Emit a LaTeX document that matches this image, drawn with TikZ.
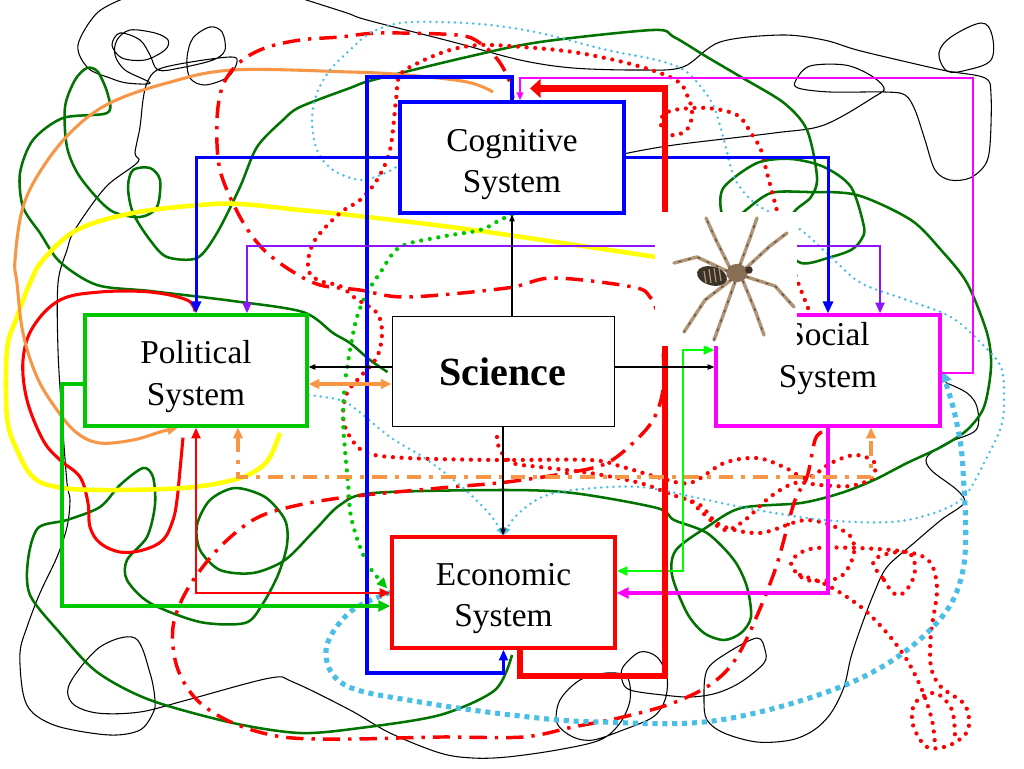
\documentclass[tikz,border=0pt]{standalone}
\usepackage{fontspec}
\setmainfont{Liberation Serif}
\usetikzlibrary{arrows.meta,calc}
\pgfdeclarelayer{bg}\pgfdeclarelayer{front}
\pgfsetlayers{bg,main,front}
\definecolor{cblue}{RGB}{0,0,255}
\definecolor{cpurple}{RGB}{140,20,255}
\definecolor{cmag}{RGB}{255,0,255}
\definecolor{cgreen}{RGB}{0,200,0}
\definecolor{clime}{RGB}{0,255,0}
\definecolor{cdkgreen}{RGB}{0,115,0}
\definecolor{cred}{RGB}{255,0,0}
\definecolor{corange}{RGB}{247,150,70}
\definecolor{cyel}{RGB}{255,255,0}
\definecolor{ccyan}{RGB}{75,190,230}
\definecolor{cleg}{RGB}{175,150,120}
\definecolor{clegd}{RGB}{95,75,55}
\definecolor{cabd}{RGB}{60,50,40}
\definecolor{cceph}{RGB}{135,110,85}
\begin{document}
\begin{tikzpicture}[x=0.75pt,y=-0.75pt,
  box/.style={draw,fill=white,line width=2.4pt,inner sep=0pt},
  txt/.style={align=center,inner sep=0pt,font=\fontsize{25}{31}\selectfont},
  blk/.style={draw=black,line width=0.8pt,-{Triangle[length=5pt,width=4pt]}},
  blarr/.style={draw=cblue,line width=2.25pt,-{Triangle[length=9pt,width=7.5pt]}},
  blline/.style={draw=cblue,line width=2.4pt,-{Triangle[length=8pt,width=6.5pt]}},
  purarr/.style={draw=cpurple,line width=2.2pt,{Triangle[length=8pt,width=6.5pt]}-{Triangle[length=8pt,width=6.5pt]}},
  mgthin/.style={draw=cmag,line width=1.1pt,-{Triangle[length=6pt,width=5pt]}},
  mgarr/.style={draw=cmag,line width=2.4pt,-{Triangle[length=9pt,width=8pt]}},
  grarr/.style={draw=cgreen,line width=2.4pt,-{Triangle[length=9pt,width=8pt]}},
  limearr/.style={draw=clime,line width=2.2pt,{Triangle[length=8pt,width=6.5pt]}-{Triangle[length=8pt,width=6.5pt]}},
  redarr/.style={draw=cred,line width=2.2pt,{Triangle[length=8pt,width=6.5pt]}-{Triangle[length=8pt,width=6.5pt]}},
  redthick/.style={draw=cred,line width=5pt,line join=miter,-{Triangle[length=8pt,width=14pt]}},
  oradd/.style={draw=corange,line width=2.4pt,dash pattern=on 11pt off 6pt on 3pt off 6pt,{Triangle[length=8pt,width=7pt]}-{Triangle[length=8pt,width=7pt]}},
  orar/.style={draw=corange,line width=2.4pt,{Triangle[length=8pt,width=7pt]}-{Triangle[length=8pt,width=7pt]}},
  cythick/.style={draw=ccyan,line width=3.8pt,dash pattern=on 3.8pt off 3.6pt,-{Triangle[length=9pt,width=9pt]}},
  cythin/.style={draw=ccyan,line width=2.1pt,line cap=round,dash pattern=on 0pt off 4.6pt,-{Triangle[length=6pt,width=5pt]}},
  grdot/.style={draw=cgreen,line width=3.2pt,line cap=round,dash pattern=on 0pt off 6.5pt,-{Triangle[length=8pt,width=7pt]}},
  orsolid/.style={draw=corange,line width=2.3pt,-{Triangle[length=8pt,width=7pt]}},
  blackscr/.style={draw=black,line width=0.8pt},
  dgscr/.style={draw=cdkgreen,line width=1.9pt},
  redloop/.style={draw=cred,line width=2.3pt},
  yel/.style={draw=cyel,line width=3.4pt},
  reddot/.style={draw=cred,line width=3.2pt,line cap=round,dash pattern=on 0pt off 6.5pt},
  reddd/.style={draw=cred,line width=2.6pt,dash pattern=on 13pt off 6pt on 2.5pt off 6pt},
  leg/.style={draw=cleg,line width=2.6pt,line cap=round,line join=round},
  legband/.style={draw=clegd,line width=0.9pt,line cap=round,dash pattern=on 1.5pt off 6pt}
]
\useasboundingbox (0,0) rectangle (1024,768);
\begin{pgfonlayer}{bg}
\fill[white] (0,0) rectangle (1024,768);
\end{pgfonlayer}

% ---------------- nodes ----------------
\node[box,draw=cblue,minimum width=168pt,minimum height=83.25pt] (cog) at (512,157.5) {};
\node[box,draw=black,line width=0.75pt,minimum width=166.5pt,minimum height=82.5pt] (sci) at (503,371) {};
\node[box,draw=cgreen,minimum width=166.5pt,minimum height=83.25pt] (pol) at (196,370.5) {};
\node[box,draw=cmag,minimum width=168pt,minimum height=83.25pt] (soc) at (828,370.5) {};
\node[box,draw=cred,minimum width=167.25pt,minimum height=83.25pt] (eco) at (503.5,592.5) {};
\node[txt] (cogt) at ($(cog.center)+(0,7)$) {Cognitive\\System};
\node[txt,font=\fontsize{30}{36}\selectfont\bfseries] (scit) at ($(sci.center)+(0,1)$) {Science};
\node[txt] (polt) at ($(pol.center)+(0,6)$) {Political\\System};
\node[txt] (soct) at ($(soc.center)+(0,-12)$) {Social\\System};
\node[txt] (ecot) at ($(eco.center)+(0,6)$) {Economic\\System};

\coordinate (c1s) at ($(cog.west)+(-3,10)$);
\coordinate (c2s) at ($(pol.east)+(0,24.5)$);
\coordinate (gds) at ($(eco.west)+(-3,-4)$);
\coordinate (ors) at (493,92);
\coordinate (ore) at ($(pol.south)+(-18,0)$);
\coordinate (dgs) at ($(sci.west)+(-4,1)$);
\coordinate (bks) at ($(soc.east)+(4,12)$);
\coordinate (bkt) at ($(cog.east)+(0,-4)$);
\coordinate (rls) at ($(pol.north)+(-1,-2)$);
\coordinate (rle) at ($(pol.south)+(-13,10)$);
\coordinate (ddend) at ($(cog.north)+(1,-2)$);

\begin{pgfonlayer}{bg}
% ---------------- freehand black ----------------
\draw[blackscr] plot[smooth,tension=0.55] coordinates {(bks) (967,393) (977,407) (976,430) (947,443) (927,457) (931,470) (957,490) (964,503) (941,520) (914,543) (887,567) (874,593) (861,627) (851,657) (844,687) (831,713) (814,730) (791,740) (757,742) (724,733) (707,720) (704,700) (707,670) (727,653) (757,638) (765,650) (764,663) (741,682) (717,693) (691,697) (663,695) (630,690) (622,680) (623,667) (640,652) (657,657) (667,677) (665,700) (653,717) (623,730) (593,740) (573,737) (557,723) (560,700) (580,680) (607,673) (627,677) (630,700) (620,723) (600,740) (557,750) (507,757) (473,758) (440,753) (390,733) (350,710) (293,682) (270,678) (187,700) (140,712) (97,713) (72,703) (70,683) (100,647) (135,638) (150,673) (155,700) (153,713) (140,730) (110,735) (60,727) (33,713) (23,693) (20,653) (27,627) (40,593) (57,557) (67,527) (70,500) (67,483) (62,417) (58,350) (58,283) (67,250) (73,233) (93,203) (110,183) (138,162) (135,153) (140,127) (143,100) (147,83) (157,70) (185,63) (230,57) (237,62) (228,77) (205,85) (190,78) (187,58) (193,38) (210,27) (222,32) (225,50) (213,60) (180,68) (158,70) (150,55) (140,40) (120,33) (112,45) (122,58) (145,60) (165,50) (168,40) (155,33) (130,30) (117,40) (115,55) (125,70) (150,83) (127,83) (110,78) (88,68) (78,45) (97,13) (125,-2)};
\draw[blackscr] plot[smooth,tension=0.55] coordinates {(300,-2) (347,13) (367,20) (453,42) (520,60) (573,68) (640,70) (683,67) (720,42) (781,35) (824,40) (857,50) (907,62) (947,71) (985,78) (991,95) (990,145) (985,165) (970,178) (950,180) (935,170) (925,140) (915,110) (905,95) (885,92) (830,92) (798,88) (796,80) (810,66) (845,65) (870,75) (884,88) (874,97) (824,125) (774,133) (674,145) (bkt)};
\draw[blackscr] plot[smooth cycle,tension=0.6] coordinates {(947,71) (939,53) (951,37) (981,23) (992,35) (991,60) (967,70)};

% ---------------- dark green scribble ----------------
\draw[dgscr] plot[smooth,tension=0.5] coordinates {(dgs) (370,360) (350,343) (333,333) (303,312) (233,301) (150,291) (97,285) (60,262) (40,233) (23,207) (20,173) (33,140) (63,118) (107,113) (108,95) (98,72) (87,68) (75,80) (65,107) (67,147) (80,177) (110,210) (140,217) (157,207) (160,180) (150,168) (133,170) (128,187) (133,213) (150,240) (167,257) (197,258) (217,233) (240,187) (257,147) (283,120) (300,107) (350,88) (373,80) (467,57) (540,42) (653,30) (674,37) (707,57) (741,77) (784,103) (807,130) (817,177) (811,197) (794,212) (780,240) (801,263) (831,257) (851,250) (861,240) (864,227) (851,187) (824,167) (791,159) (757,163) (724,187) (721,210) (730,225) (746,210) (771,193) (807,192) (857,195) (911,220) (941,250) (967,283) (987,333) (991,367) (984,407) (967,430) (941,447) (907,463) (874,480) (841,493) (801,503) (741,508) (707,527) (676,550) (672,575) (687,613) (704,633) (724,640) (741,633) (751,617) (747,587) (734,560) (707,533) (674,520) (657,508) (573,493) (503,490) (373,493) (340,505) (315,530) (285,560) (253,573) (220,570) (200,550) (197,525) (210,500) (235,488) (265,497) (285,520) (287,545) (278,575) (262,605) (245,623) (200,622) (150,603) (127,580) (127,560) (147,537) (155,505) (153,477) (143,468) (120,485) (100,507) (67,520) (38,528) (28,560) (30,595) (60,633) (97,672) (150,700) (233,723) (300,733) (360,728) (440,715) (495,690) (512,655)};

% ---------------- red solid loop ----------------
\draw[redloop] plot[smooth,tension=0.6] coordinates {(rls) (187,300) (150,292) (100,292) (60,300) (33,327) (23,360) (27,400) (43,440) (60,460) (80,477) (88,503) (90,527) (100,543) (120,552) (143,550) (163,540) (173,520) (177,500) (180,470) (rle)};

% ---------------- yellow ----------------
\draw[yel] plot[smooth,tension=0.6] coordinates {(656,257) (473,230) (350,215) (300,210) (240,204) (200,205) (133,213) (77,230) (43,260) (30,283) (17,317) (7,350) (7,417) (17,450) (33,477) (57,487) (100,490) (183,488) (233,480) (257,470) (270,457) (280,433)};

% ---------------- orange solid ----------------
\draw[orsolid] plot[smooth,tension=0.6] coordinates {(ors) (467,82) (407,75) (350,72) (233,70) (167,83) (110,103) (73,130) (43,167) (23,207) (15,260) (17,283) (23,333) (37,377) (57,410) (77,433) (100,443) (133,440) (160,432) (ore)};

% ---------------- red dotted ----------------
\draw[reddot] plot[smooth,tension=0.55] coordinates {(808,308) (790,260) (776,207) (767,173) (761,150) (751,133) (737,115) (707,108) (674,110) (662,117) (663,132) (677,135) (689,127) (692,110) (687,95) (680,83) (660,73) (623,62) (573,52) (523,47) (480,45) (450,50) (420,62) (400,75) (396,100) (390,150) (377,180) (360,200) (340,213) (317,237) (309,255) (309,272) (320,281) (340,286) (355,298) (377,313) (382,333) (377,357) (360,377) (347,393) (343,417) (350,437) (367,453) (407,458) (497,460) (590,460) (623,467) (657,477) (690,483) (724,463) (757,458) (784,467) (807,478) (831,463) (855,455) (874,462) (872,478) (850,486) (820,485) (795,483) (770,497) (745,520) (725,530) (705,515) (690,500)};
\draw[reddot] plot[smooth,tension=0.55] coordinates {(497,437) (500,450) (513,463) (540,467) (590,473) (640,483) (673,495) (700,505) (720,525) (760,533) (807,520) (847,533) (854,553) (840,577) (807,580) (791,563) (810,549) (857,548) (907,552) (930,562) (937,590) (931,633) (931,667) (941,687) (965,705) (968,730) (950,745) (927,747) (913,725) (915,703) (935,693) (952,710) (955,740)};
\draw[reddot] plot[smooth,tension=0.55] coordinates {(800,575) (827,585) (861,607) (887,633) (907,660) (922,690) (932,720) (935,745)};
\draw[reddot] plot[smooth cycle,tension=0.7] coordinates {(874,560) (884,580) (897,595) (910,585) (915,565) (905,552)};

% ---------------- red dash-dot ----------------
\draw[reddd] plot[smooth,tension=0.55] coordinates {(822,432) (815,440) (807,477) (794,503) (774,573) (741,650) (714,682) (673,703) (623,717) (573,727) (523,737) (440,737) (350,739) (283,737) (233,723) (197,700) (177,667) (173,627) (187,590) (217,550) (253,520) (290,507) (347,497) (440,488) (507,482) (573,472) (607,463) (633,443) (653,420) (663,390) (663,350) (657,313) (650,297) (633,287) (553,278) (507,288) (407,297) (360,290) (320,285) (290,270) (262,248) (240,217) (220,170) (217,120) (223,85) (240,62) (265,48) (300,40) (340,37) (380,33) (457,35) (480,43) (498,60) (509,80) (ddend)};

% ---------------- cyan thin dotted ----------------
\draw[cythin] plot[smooth,tension=0.55] coordinates {(c1s) (383,174) (360,180) (333,170) (317,150) (312,120) (317,93) (330,70) (350,50) (370,33) (400,23) (440,22) (490,25) (540,33) (607,50) (657,60) (684,70) (701,87) (714,107) (724,140) (734,177) (751,200) (771,213) (801,230) (831,257) (861,283) (907,300) (951,317) (981,343) (1001,367) (1004,400) (1001,427) (984,463) (964,497) (934,513) (891,522) (824,520) (757,510) (707,500) (640,487) (573,490) (540,498) (515,517) (eco.north)};
\draw[cythin] plot[smooth,tension=0.55] coordinates {(c2s) (340,400) (357,410) (390,437) (423,457) (450,477) (473,497) (492,517) (eco.north)};

% ---------------- green dotted ----------------
\draw[grdot] plot[smooth,tension=0.55] coordinates {(cog.south) (500,220) (480,230) (440,237) (400,247) (380,273) (367,293) (357,317) (350,350) (345,383) (343,417) (345,450) (348,483) (350,510) (353,525) (360,547) (370,568) (gds)};

% ---------------- cyan thick dotted ----------------
\draw[cythick] plot[smooth,tension=0.6] coordinates {(eco.west) (350,612) (326,650) (345,685) (420,702) (520,716) (600,722) (720,720) (850,683) (930,630) (963,570) (963,470) (955,415) (soc.east)};

% ---------------- orthogonal connectors ----------------
\draw[blarr] (cog.west) -| (pol.north);
\draw[blarr] (cog.east) -| (soc.north);
\draw[blline] (cog.north) -- (512,77) -- (367,77) -- (367,673) -| (eco.south);
\draw[purarr] ($(pol.north)+(51,0)$) |- (560,246) -| ($(soc.north)+(52,0)$);
\draw[mgthin] ($(soc.east)+(0,2.5)$) -| (973,78) -| ($(cog.north)+(8,0)$);
\draw[mgarr] (soc.south) |- ($(eco.east)+(0,0.5)$);
\draw[grarr] ($(pol.west)+(0,13.5)$) -| (62,606) -- ($(eco.west)+(0,13.5)$);
\draw[limearr] ($(eco.east)+(0,-21.5)$) -| (683,350) -- ($(soc.west)+(0,-20.5)$);
\draw[redarr] (pol.south) |- ($(eco.west)+(0,0.5)$);
\draw[redthick] ($(eco.south)+(16.5,0)$) |- (665,676) |- ($(cog.north)+(18,-12)$);
\draw[oradd] ($(pol.south)+(42,0)$) |- (871,477) -- ($(soc.south)+(43,0)$);
\draw[orar] ($(sci.west)+(0,13)$) -- ($(pol.east)+(0,13.5)$);
\draw[blk] (cog.south |- sci.north) -- (cog.south);
\draw[blk] ($(sci.west)+(0,-4)$) -- ($(pol.east)+(0,-3.5)$);
\draw[blk] ($(sci.east)+(0,-4)$) -- ($(soc.west)+(0,-3.5)$);
\draw[blk] (sci.south) -- (sci.south |- eco.north);
\end{pgfonlayer}

% ---------------- spider picture ----------------
\begin{pgfonlayer}{front}
\fill[white] (655,212) rectangle (797,346);
\draw[leg] (730,268) -- (716,240) -- (706,218);
\draw[leg] (740,265) -- (750,238) -- (757,218);
\draw[leg] (745,269) -- (770,246) -- (787,233);
\draw[leg] (747,277) -- (775,286) -- (794,307);
\draw[leg] (743,281) -- (755,310) -- (764,335);
\draw[leg] (735,282) -- (725,310) -- (714,340);
\draw[leg] (731,280) -- (705,300) -- (684,332);
\draw[leg] (727,271) -- (697,257) -- (674,263);
\draw[legband] (730,268) -- (716,240) -- (706,218);
\draw[legband] (740,265) -- (750,238) -- (757,218);
\draw[legband] (745,269) -- (770,246) -- (787,233);
\draw[legband] (747,277) -- (775,286) -- (794,307);
\draw[legband] (743,281) -- (755,310) -- (764,335);
\draw[legband] (735,282) -- (725,310) -- (714,340);
\draw[legband] (731,280) -- (705,300) -- (684,332);
\draw[legband] (727,271) -- (697,257) -- (674,263);
\fill[cceph] (737,273) ellipse [x radius=8pt, y radius=6.8pt];
\fill[cabd,rotate around={-15:(712,276)}] (712,276) ellipse [x radius=11.5pt, y radius=7pt];
\draw[cleg,line width=0.9pt] (704,271) -- (706,283) (709,269) -- (711,283) (714,268) -- (716,282) (719,268) -- (721,281);
\fill[cabd] (749,270) circle [radius=2.8pt];
\end{pgfonlayer}
\end{tikzpicture}
\end{document}
